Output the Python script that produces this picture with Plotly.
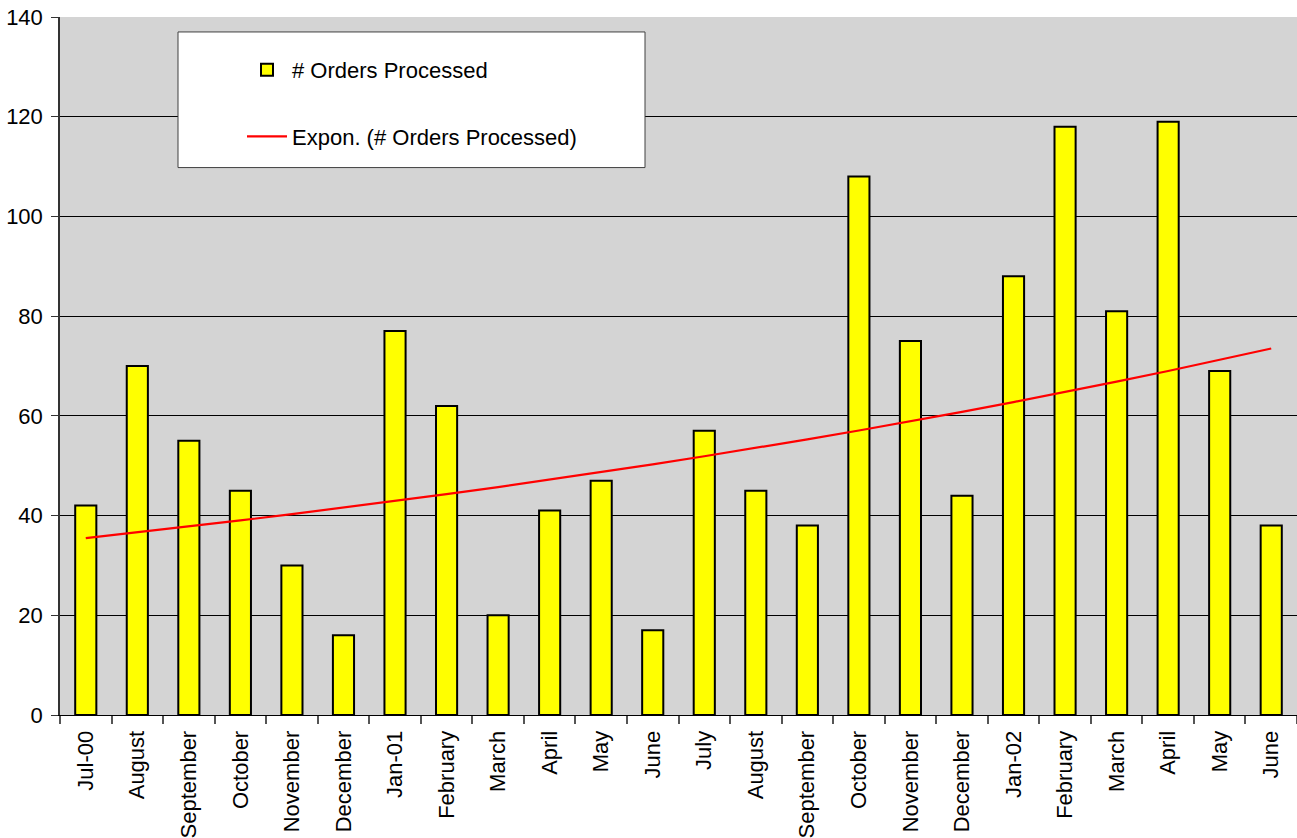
import numpy as np
import plotly.graph_objects as go

months = ["Jul-00", "August", "September", "October", "November", "December",
          "Jan-01", "February", "March", "April", "May", "June",
          "July", "August", "September", "October", "November", "December",
          "Jan-02", "February", "March", "April", "May", "June"]
orders = [42, 70, 55, 45, 30, 16, 77, 62, 20, 41, 47, 17,
          57, 45, 38, 108, 75, 44, 88, 118, 81, 119, 69, 38]
y_ticks = [0, 20, 40, 60, 80, 100, 120, 140]

x = np.arange(len(orders))
# Exponential trendline (least squares on ln(y)), as in the spreadsheet
b, a = np.polyfit(x, np.log(orders), 1)
trend = np.exp(a + b * x)

FONT = "Liberation Sans, Arial, sans-serif"
FS = 22

fig = go.Figure()
fig.add_trace(go.Bar(
    x=x, y=orders, width=0.41,
    marker=dict(color="#ffff00", line=dict(color="black", width=2)),
    name="# Orders Processed", legendgroup="a",
))
fig.add_trace(go.Scatter(
    x=x, y=trend, mode="lines",
    line=dict(color="#ff0000", width=2.2),
    name="Expon. (# Orders Processed)", legendgroup="b",
))

W, H = 1297, 838
ml, mr, mt, mb = 60, 0, 17, 121
pw, ph = W - ml - mr, H - mt - mb

def px_x(p):
    return (p - ml) / pw

def px_y(p):
    return (H - mb - p) / ph

fig.add_shape(type="rect", xref="paper", yref="paper",
              x0=px_x(178), x1=px_x(645), y0=px_y(168), y1=px_y(32),
              fillcolor="white", line=dict(color="#404040", width=1), layer="above")

fig.update_layout(
    width=W, height=H,
    margin=dict(l=ml, r=mr, t=mt, b=mb, pad=0),
    paper_bgcolor="white",
    plot_bgcolor="#d4d4d4",
    font=dict(family=FONT, size=FS, color="black"),
    showlegend=True,
    legend=dict(x=px_x(242), y=px_y(49), xanchor="left", yanchor="top",
                bgcolor="rgba(0,0,0,0)", borderwidth=0,
                font=dict(family=FONT, size=FS, color="black"),
                tracegroupgap=35, itemwidth=40, traceorder="grouped"),
    bargap=0.59,
    xaxis=dict(
        range=[-0.5, len(orders) - 0.5],
        tickmode="array", tickvals=list(x), ticktext=months,
        tickangle=-90, ticks="", showgrid=False, zeroline=False,
        showline=True, linecolor="black", linewidth=1,
        tickfont=dict(family=FONT, size=FS),
        ticklabelstandoff=6,
        minor=dict(tickmode="array", tickvals=list(np.arange(len(orders) + 1) - 0.5),
                   ticks="outside", ticklen=8, tickcolor="#555555", tickwidth=1.5,
                   showgrid=False),
    ),
    yaxis=dict(
        range=[0, 140], tickmode="array", tickvals=y_ticks,
        ticks="outside", ticklen=7, tickcolor="#333333",
        showgrid=True, gridcolor="black", gridwidth=1,
        zeroline=False, showline=True, linecolor="#333333", linewidth=1.5,
        tickfont=dict(family=FONT, size=FS),
        ticklabelstandoff=4,
    ),
)

fig.write_html("out.html")
